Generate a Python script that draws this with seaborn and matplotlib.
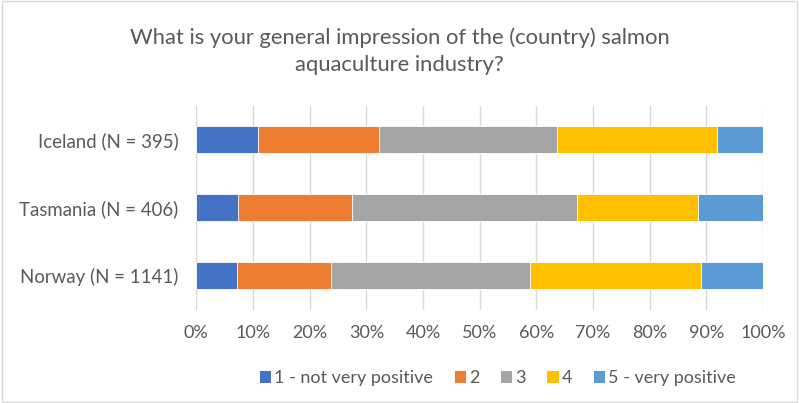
import matplotlib
matplotlib.use("Agg")
import matplotlib.pyplot as plt
from matplotlib.patches import Patch
import seaborn as sns
import numpy as np
import pandas as pd

countries = ["Iceland (N = 395)", "Tasmania (N = 406)", "Norway (N = 1141)"]
levels = ["1 - not very positive", "2", "3", "4", "5 - very positive"]
s1 = [10.8, 7.4, 7.2]
s2 = [21.5, 20.1, 16.6]
s3 = [31.4, 39.7, 35.1]
s4 = [28.2, 21.4, 30.2]
s5 = [8.1, 11.4, 10.9]
colors = ["#4472C4", "#ED7D31", "#A5A5A5", "#FFC000", "#5B9BD5"]
ticks = [0, 10, 20, 30, 40, 50, 60, 70, 80, 90, 100]

sns.set_theme(style="white")
plt.rcParams['font.family'] = ['Lato', 'DejaVu Sans']
txt = "#595959"

series = [s1, s2, s3, s4, s5]
cum = np.cumsum(np.array(series), axis=0)

fig = plt.figure(figsize=(7.99, 4.03), dpi=100)
ax = fig.add_axes([0.2457, 0.231, 0.7093, 0.507])

for k in range(4, -1, -1):
    df = pd.DataFrame({"country": countries, "value": cum[k]})
    sns.barplot(data=df, x="value", y="country", color=colors[k], orient="h",
                width=0.4, ax=ax, saturation=1, edgecolor="white", linewidth=0.6,
                zorder=3)

ax.set_xlim(0, 100)
ax.set_ylim(2.5, -0.5)
ax.set_xticks(ticks)
ax.set_xticklabels([f"{t}%" for t in ticks], color=txt, fontsize=13)
ax.tick_params(axis="y", labelsize=13.4, labelcolor=txt, length=0, pad=13)
ax.tick_params(axis="x", length=0, pad=11)
ax.set_xlabel("")
ax.set_ylabel("")
ax.xaxis.grid(True, color="#D9D9D9", linewidth=1, zorder=0)
ax.set_axisbelow(True)
for sp in ax.spines.values():
    sp.set_visible(False)

fig.text(0.5, 0.873, "What is your general impression of the (country) salmon\naquaculture industry?",
         ha="center", va="center", fontsize=15.8, color=txt, linespacing=1.4)

handles = [Patch(facecolor=c, edgecolor="none") for c in colors]
fig.legend(handles, levels, loc="center", bbox_to_anchor=(0.623, 0.062), ncol=5,
           frameon=False, fontsize=13, labelcolor=txt, handlelength=0.64,
           handleheight=0.64, handletextpad=0.15, columnspacing=1.2)

border = plt.Rectangle((0.002, 0.002), 0.996, 0.996, transform=fig.transFigure,
                       fill=False, edgecolor="#D9D9D9", linewidth=1)
fig.patches.append(border)

fig.savefig("out.png", dpi=100)
